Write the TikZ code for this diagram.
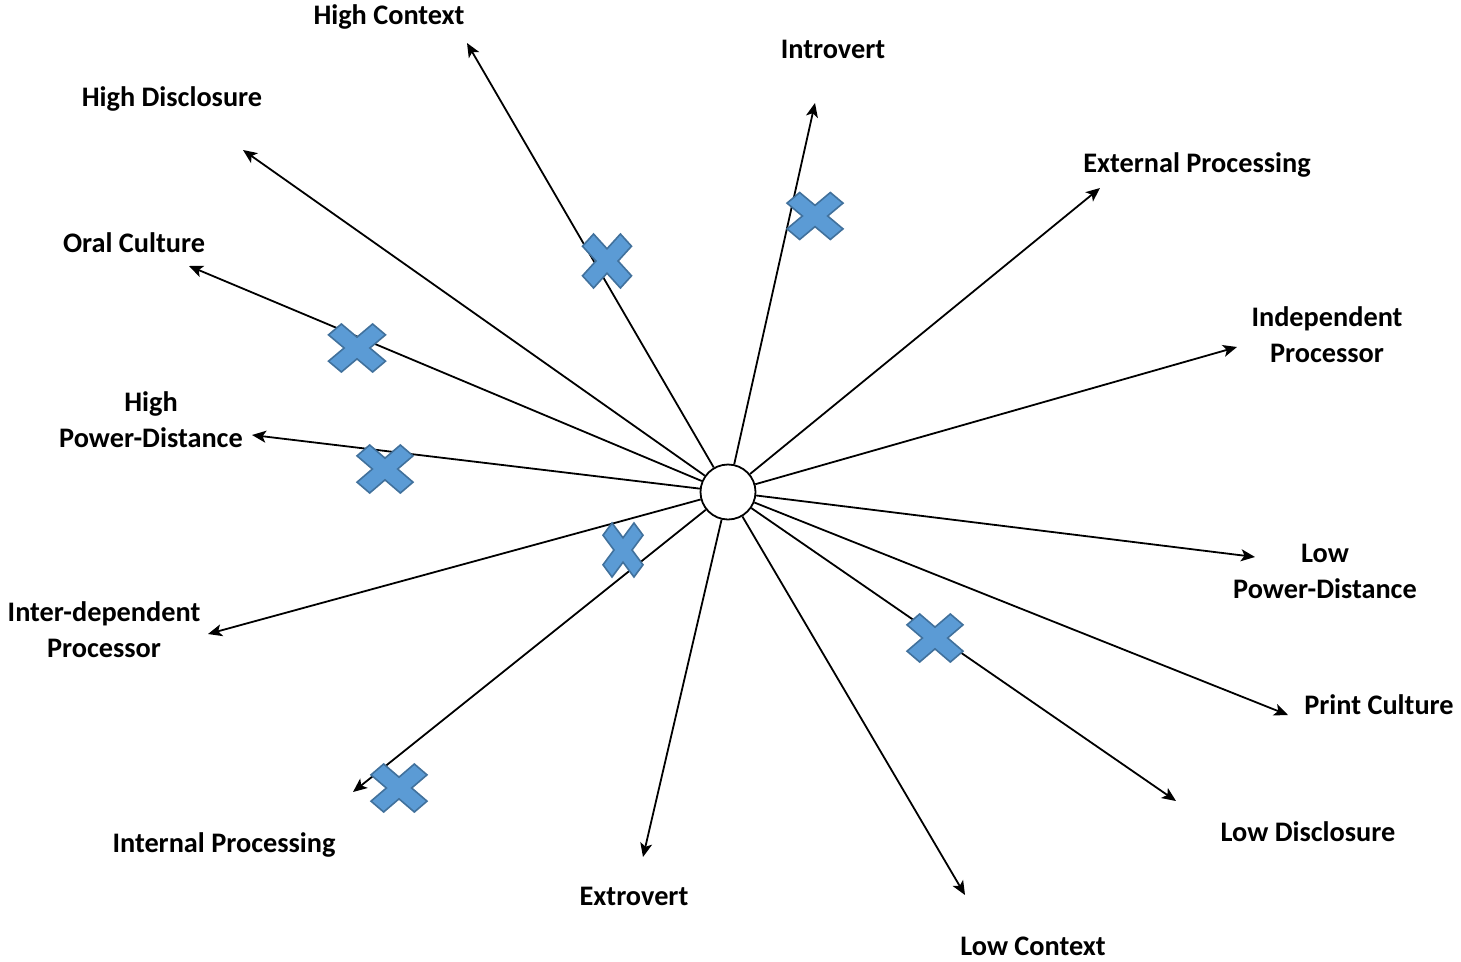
\documentclass[tikz,border=0pt]{standalone}
\usepackage{fontspec}
\setmainfont{Carlito}
\usetikzlibrary{arrows.meta}
\definecolor{xfill}{HTML}{5B9BD5}
\definecolor{xline}{HTML}{41719C}
\tikzset{
  lbl/.style={font=\fontsize{28.3}{36}\selectfont\bfseries, inner sep=0pt, align=center, text=black, anchor=base},
  ray/.style={line width=1.8pt, -{Stealth[length=14pt,width=12pt,inset=3.5pt]}},
  hub/.style={circle, draw, line width=1.8pt, minimum size=55pt, inner sep=0pt, fill=white},
  xmark/.pic={\draw[fill=xfill, draw=xline, line width=1.6pt, line join=miter]
    (0.274,0.5) -- (0.5,0.274) -- (0.226,0) -- (0.5,-0.274) -- (0.274,-0.5) -- (0,-0.226)
    -- (-0.274,-0.5) -- (-0.5,-0.274) -- (-0.226,0) -- (-0.5,0.274) -- (-0.274,0.5) -- (0,0.226) -- cycle;}
}
\begin{document}
\begin{tikzpicture}[x=1pt,y=-1pt]
\useasboundingbox[fill=white] (0,0) rectangle (1461,961);
\node[hub] (c) at (728,492) {};
% tips
\coordinate (tHC) at (467,43);
\coordinate (tIn) at (815,103);
\coordinate (tEP) at (1100,188);
\coordinate (tIP) at (1237,347);
\coordinate (tLPD) at (1255,557);
\coordinate (tPC) at (1288,715);
\coordinate (tLD) at (1176,801);
\coordinate (tLC) at (965,895);
\coordinate (tEx) at (643,857);
\coordinate (tInP) at (353,792);
\coordinate (tIdP) at (208,634);
\coordinate (tHPD) at (252,435);
\coordinate (tOC) at (189,266);
\coordinate (tHD) at (243,150);
\foreach \t in {tHC,tIn,tEP,tIP,tLPD,tPC,tLD,tLC,tEx,tInP,tIdP,tHPD,tOC,tHD}
  \draw[ray] (c) -- (\t);
% labels
\node[lbl] (lHC) at (389,24) {High Context};
\node[lbl] (lIn) at (833,58) {Introvert};
\node[lbl] (lEP) at (1197,172) {External Processing};
\node[lbl] (lIP) at (1327,362) {Independent\\Processor};
\node[lbl] (lLPD) at (1325,598) {Low\\Power-Distance};
\node[lbl] (lPC) at (1379,714) {Print Culture};
\node[lbl] (lLD) at (1308,841) {Low Disclosure};
\node[lbl] (lLC) at (1033,955) {Low Context};
\node[lbl] (lEx) at (634,905) {Extrovert};
\node[lbl] (lInP) at (224,852) {Internal Processing};
\node[lbl] (lIdP) at (104,657) {Inter-dependent\\Processor};
\node[lbl] (lHPD) at (151,447) {High\\Power-Distance};
\node[lbl] (lOC) at (134,252) {Oral Culture};
\node[lbl] (lHD) at (172,106) {High Disclosure};
% crosses
\pic[xscale=49,yscale=54] at (607,261) {xmark};
\pic[xscale=56,yscale=47] at (815,216) {xmark};
\pic[xscale=57,yscale=48] at (357,348) {xmark};
\pic[xscale=56,yscale=48] at (385,469) {xmark};
\pic[xscale=40,yscale=54] at (623,550) {xmark};
\pic[xscale=56,yscale=48] at (399,788) {xmark};
\pic[xscale=56,yscale=48] at (935,638) {xmark};
\end{tikzpicture}
\end{document}
